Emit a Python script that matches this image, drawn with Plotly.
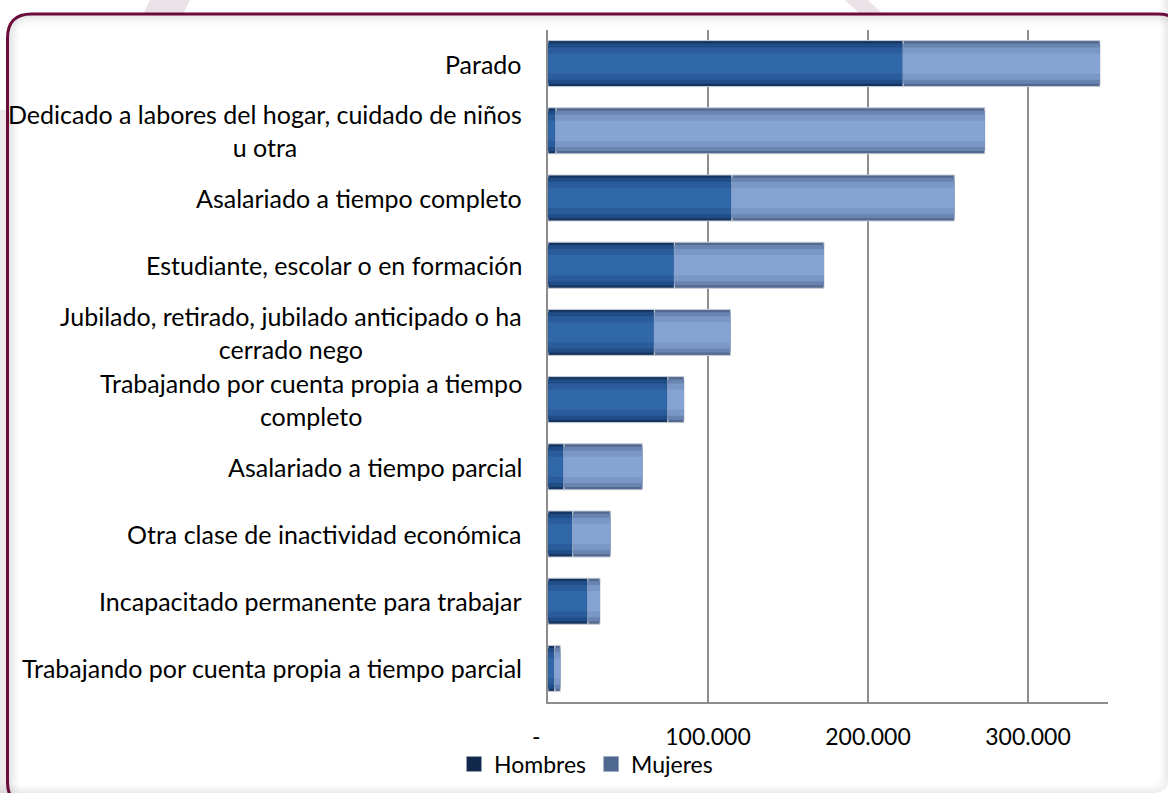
import plotly.graph_objects as go

# ---- data ----
categories = [
    "Parado",
    "Dedicado a labores del hogar, cuidado de niños<br>u otra",
    "Asalariado a tiempo completo",
    "Estudiante, escolar o en formación",
    "Jubilado, retirado, jubilado anticipado o ha<br>cerrado nego",
    "Trabajando por cuenta propia a tiempo<br>completo",
    "Asalariado a tiempo parcial",
    "Otra clase de inactividad económica",
    "Incapacitado permanente para trabajar",
    "Trabajando por cuenta propia a tiempo parcial",
]
hombres = [222000, 5000, 115000, 79000, 66500, 75000, 10000, 15500, 25000, 4300]
mujeres = [123000, 268000, 139000, 93500, 47500, 10000, 49000, 23500, 7500, 3400]
tick_vals = [0, 100000, 200000, 300000]
tick_text = ["-\u00a0\u00a0\u00a0\u00a0", "100.000", "200.000", "300.000"]
series_names = ["Hombres", "Mujeres"]

# ---- layout geometry (pixels) ----
W, H = 1168, 793
L, R, T, B = 548, 60, 30, 91
PW, PH = W - L - R, H - T - B
FONT = "Lato, Calibri, sans-serif"


def px(x):
    return (x - L) / PW


def py(y):
    return (H - B - y) / PH


def rrect(x0, y0, x1, y1, r):
    pts = [
        ("M", [(x0 + r, y0)]),
        ("L", [(x1 - r, y0)]),
        ("Q", [(x1, y0), (x1, y0 + r)]),
        ("L", [(x1, y1 - r)]),
        ("Q", [(x1, y1), (x1 - r, y1)]),
        ("L", [(x0 + r, y1)]),
        ("Q", [(x0, y1), (x0, y1 - r)]),
        ("L", [(x0, y0 + r)]),
        ("Q", [(x0, y0), (x0 + r, y0)]),
    ]
    s = ""
    for cmd, pp in pts:
        s += cmd + " ".join(f"{px(a):.5f},{py(b):.5f}" for a, b in pp) + " "
    return s + "Z"


def poly(points):
    return "M" + " L".join(f"{px(a):.5f},{py(b):.5f}" for a, b in points) + " Z"


fig = go.Figure()

layer_widths = [0.685, 0.6, 0.48, 0.3]
h_cols = ["#143461", "#214d87", "#2a5c9b", "#3067a9"]
m_cols = ["#53698f", "#6a84b2", "#7a97c6", "#86a3d3"]
legend_cols = ["#10284a", "#4f6892"]

for i, (w, c) in enumerate(zip(layer_widths, h_cols)):
    fig.add_trace(go.Bar(
        y=categories, x=hombres, base=[0] * len(hombres), orientation="h",
        name=series_names[0], width=w, legendgroup="h", showlegend=False,
        marker=dict(color=c, line=dict(color="#c9ced8" if i == 0 else c, width=1 if i == 0 else 0)),
        hoverinfo="x+y",
    ))
for i, (w, c) in enumerate(zip(layer_widths, m_cols)):
    fig.add_trace(go.Bar(
        y=categories, x=mujeres, base=hombres, orientation="h",
        name=series_names[1], width=w, legendgroup="m", showlegend=False,
        marker=dict(color=c, line=dict(color="#c9ced8" if i == 0 else c, width=1 if i == 0 else 0)),
        hoverinfo="x+y",
    ))
# legend entries (larger square swatches)
for name, grp, col in zip(series_names, ["h", "m"], legend_cols):
    fig.add_trace(go.Scatter(
        x=[None], y=[None], mode="markers", name=name, legendgroup=grp,
        marker=dict(symbol="square", size=15, color=col,
                    line=dict(color="#9aa6b8", width=0.5)),
        showlegend=True, hoverinfo="skip",
    ))

FX0, FY0, FX1, FY1, FR = 7.5, 14, 1182, 806, 24

shapes = []
stripe = "rgba(226,214,222,0.7)"
# background watermark stripes
shapes.append(dict(type="path", xref="paper", yref="paper", layer="below",
                   path=poly([(150, 0), (190, 0), (175, 30), (135, 30)]),
                   fillcolor=stripe, line=dict(width=0)))
shapes.append(dict(type="path", xref="paper", yref="paper", layer="below",
                   path=poly([(845, 0), (868, 0), (900, 30), (877, 30)]),
                   fillcolor=stripe, line=dict(width=0)))
shapes.append(dict(type="path", xref="paper", yref="paper", layer="below",
                   path=poly([(0, 110), (7, 110), (7, 793), (0, 793)]),
                   fillcolor="rgba(234,226,232,0.8)", line=dict(width=0)))
# frame interior
shapes.append(dict(type="path", xref="paper", yref="paper", layer="below",
                   path=rrect(FX0, FY0, FX1, FY1, FR),
                   fillcolor="white", line=dict(width=0)))
# inner shadow (top/left)
for k in range(1, 14):
    a = 0.11 * (1 - k / 14) ** 1.5
    shapes.append(dict(type="path", xref="paper", yref="paper", layer="below",
                       path=rrect(FX0 + k, FY0 + k, FX1 + 20, FY1 + 20, max(FR - k, 6)),
                       fillcolor="rgba(0,0,0,0)",
                       line=dict(color=f"rgba(0,0,0,{a:.3f})", width=1.2)))
# soft shadow along right / bottom edges of the picture
for k in range(0, 8):
    a = 0.07 * (1 - k / 8)
    shapes.append(dict(type="path", xref="paper", yref="paper", layer="below",
                       path=rrect(-40, -40, 1167.5 - k, 792.5 - k, 14),
                       fillcolor="rgba(0,0,0,0)",
                       line=dict(color=f"rgba(0,0,0,{a:.3f})", width=1.2)))
# frame border
shapes.append(dict(type="path", xref="paper", yref="paper", layer="above",
                   path=rrect(FX0, FY0, FX1, FY1, FR),
                   fillcolor="rgba(0,0,0,0)", line=dict(color="#6a0b3c", width=3)))

annotations = []
for cat in categories:
    annotations.append(dict(
        x=0, xref="paper", y=cat, yref="y", xanchor="right", yanchor="middle",
        xshift=-24, text=cat, showarrow=False, align="center",
        font=dict(family=FONT, size=25, color="black"),
    ))

fig.update_layout(
    width=W, height=H,
    margin=dict(l=L, r=R, t=T, b=B, pad=0, autoexpand=False),
    paper_bgcolor="white", plot_bgcolor="rgba(0,0,0,0)",
    barmode="overlay",
    shapes=shapes, annotations=annotations,
    font=dict(family=FONT, size=23, color="black"),
    xaxis=dict(
        range=[0, 350000], tickvals=tick_vals, ticktext=tick_text,
        showgrid=True, gridcolor="#8c8c8c", gridwidth=1.5,
        showline=True, linecolor="#8c8c8c", linewidth=2,
        zeroline=False, ticks="outside", ticklen=13, tickcolor="rgba(0,0,0,0)",
        tickfont=dict(family=FONT, size=23, color="black"), fixedrange=True,
    ),
    yaxis=dict(
        categoryorder="array", categoryarray=categories, autorange="reversed",
        showticklabels=False, showgrid=False, zeroline=False,
        showline=True, linecolor="#8c8c8c", linewidth=2, fixedrange=True,
    ),
    legend=dict(
        orientation="h", x=px(454), xanchor="left", y=py(764), yanchor="middle",
        font=dict(family=FONT, size=23, color="black"),
        bgcolor="rgba(0,0,0,0)", itemwidth=30, traceorder="normal",
        tracegroupgap=0,
    ),
    showlegend=True,
)

fig.write_html(
    "out.html",
    config={"displayModeBar": False},
    post_script="document.body.style.margin='0';document.body.style.overflow='hidden';",
)
